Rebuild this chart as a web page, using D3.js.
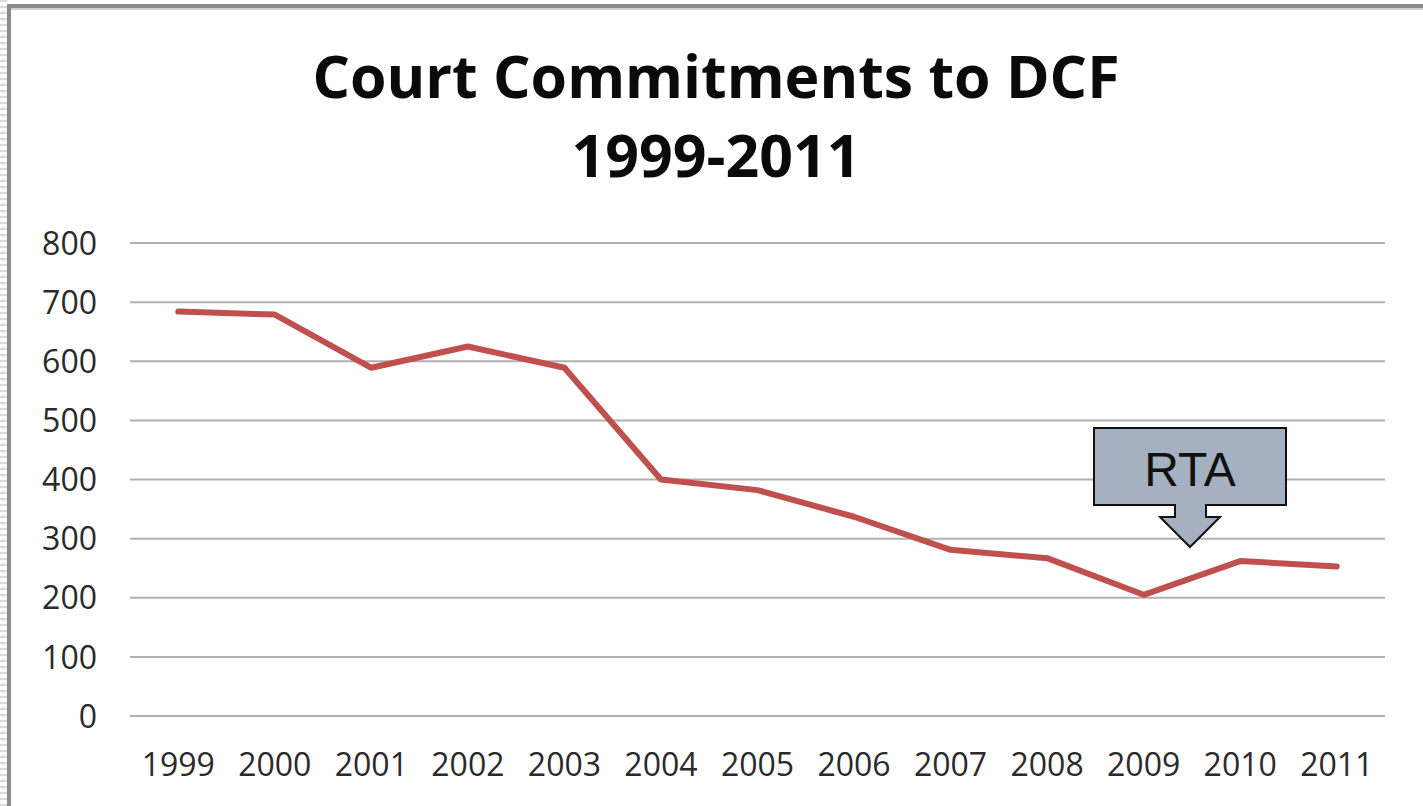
<!DOCTYPE html>
<html><head><meta charset="utf-8">
<script src="https://cdn.jsdelivr.net/npm/d3@7"></script>
<style>body{margin:0;background:#fff;}svg{display:block;}</style>
</head><body>
<svg id="c" width="1423" height="806"></svg>
<script>
const years = ["1999","2000","2001","2002","2003","2004","2005","2006","2007","2008","2009","2010","2011"];
const commitments = [684, 679, 589, 625, 589, 400, 382, 337, 281, 267, 205, 262, 253];
const yTicks = [0,100,200,300,400,500,600,700,800];
const titleLines = ["Court Commitments to DCF","1999-2011"];
const calloutText = "RTA";

const svg = d3.select("#c");
// left dotted edge & frame
const pat = svg.append("defs").append("pattern").attr("id","stripe").attr("width",7).attr("height",6).attr("patternUnits","userSpaceOnUse");
pat.append("rect").attr("width",7).attr("height",6).attr("fill","#fafafa");
pat.append("rect").attr("y",0).attr("width",7).attr("height",2).attr("fill","#dcdcdc");
svg.append("rect").attr("x",0).attr("y",0).attr("width",7).attr("height",806).attr("fill","url(#stripe)");
svg.append("rect").attr("x",7).attr("y",4).attr("width",1416).attr("height",4).attr("fill","#8a8a8a");
svg.append("rect").attr("x",7).attr("y",4).attr("width",4).attr("height",802).attr("fill","#8a8a8a");
svg.append("rect").attr("x",11).attr("y",8).attr("width",1412).attr("height",2).attr("fill","#d0d0d0");

const x = d3.scaleBand().domain(years).range([130,1385]);
const y = d3.scaleLinear().domain([0,800]).range([716,243]);

const font = "'Liberation Sans', Arial, sans-serif";
// title
svg.append("g").selectAll("text").data(titleLines).join("text")
  .attr("x",716).attr("y",(d,i)=>98+i*79).attr("text-anchor","middle")
  .attr("font-family","'Open Sans', sans-serif").attr("font-weight","bold").attr("font-size",59)
  .attr("fill","#0a0a0a").text(d=>d);

// grid
svg.append("g").selectAll("line").data(yTicks).join("line")
  .attr("x1",130).attr("x2",1385).attr("y1",d=>y(d)).attr("y2",d=>y(d))
  .attr("stroke","#b0b0b0").attr("stroke-width",2);

// y axis labels
const yAxis = d3.axisLeft(y).tickValues(yTicks).tickSize(0).tickPadding(0);
const gy = svg.append("g").attr("transform","translate(97,0)").call(yAxis);
gy.select(".domain").remove();
gy.selectAll("text").attr("font-family","'Open Sans', sans-serif").attr("font-size",32).attr("fill","#2a2a2a").attr("dy","0.35em");

// x axis labels
const xAxis = d3.axisBottom(x).tickSize(0).tickPadding(0);
const gx = svg.append("g").attr("transform","translate(0,765)").call(xAxis);
gx.select(".domain").remove();
gx.selectAll("text").attr("font-family","'Open Sans', sans-serif").attr("font-size",32).attr("fill","#2a2a2a").attr("dy","0.35em");

// line
const line = d3.line().x((d,i)=>x(years[i])+x.bandwidth()/2).y(d=>y(d));
svg.append("path").datum(commitments).attr("d",line)
  .attr("fill","none").attr("stroke","#c0504d").attr("stroke-width",6)
  .attr("stroke-linejoin","round").attr("stroke-linecap","round");

// callout
const cx = 1190;
const pts = [[1094,428],[1286,428],[1286,505],[1206,505],[1206,517],[1220,517],[cx,547],[1160,517],[1175,517],[1175,505],[1094,505]];
svg.append("path").attr("d",d3.line()(pts)+"Z").attr("fill","#a5b1c0").attr("stroke","#111").attr("stroke-width",2);
svg.append("text").attr("x",cx).attr("y",486).attr("text-anchor","middle")
  .attr("font-family",font).attr("font-size",48).attr("fill","#111").text(calloutText);
</script>
</body></html>
